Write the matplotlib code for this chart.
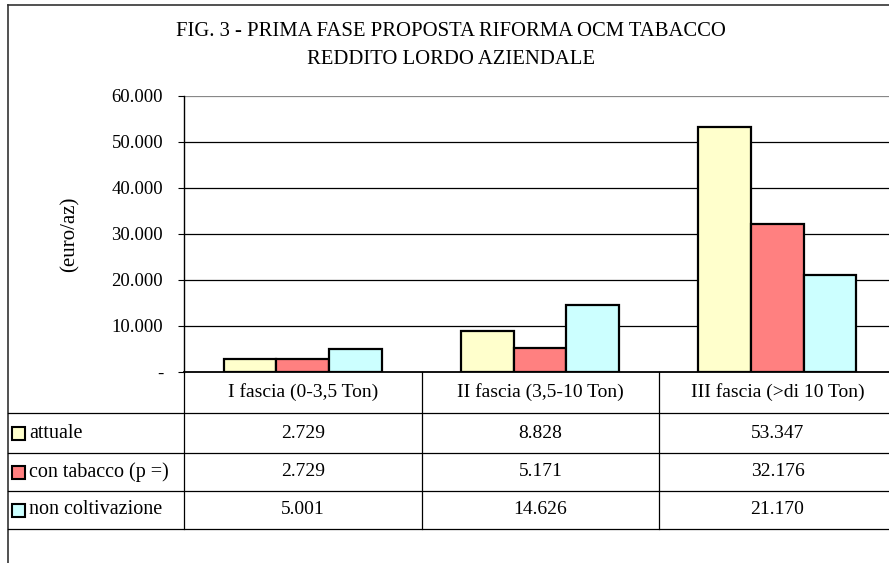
import matplotlib
matplotlib.use("Agg")
import matplotlib.pyplot as plt
from matplotlib.lines import Line2D
from matplotlib.patches import Rectangle

categories = ["I fascia (0-3,5 Ton)", "II fascia (3,5-10 Ton)", "III fascia (>di 10 Ton)"]
series_names = ["attuale", "con tabacco (p =)", "non coltivazione"]
attuale = [2729, 8828, 53347]
con_tabacco = [2729, 5171, 32176]
non_coltivazione = [5001, 14626, 21170]
series_values = [attuale, con_tabacco, non_coltivazione]
colors = ["#FFFFCC", "#FF8080", "#CCFFFF"]
yticks = [0, 10000, 20000, 30000, 40000, 50000, 60000]
title_lines = ["FIG. 3 - PRIMA FASE PROPOSTA RIFORMA OCM TABACCO", "REDDITO LORDO AZIENDALE"]

W, H = 889, 563
FONT = "Liberation Serif"
plt.rcParams['font.family'] = [FONT, 'DejaVu Serif']

fig = plt.figure(figsize=(W / 100, H / 100), dpi=100)

def fx(x):
    return x / W

def fy(y):
    return 1 - y / H

# plot area in pixel coords
L, R, T, B = 184, 896, 96, 372
ax = fig.add_axes([fx(L), fy(B), (R - L) / W, (B - T) / H])
ax.set_xlim(-0.5, 2.5)
ax.set_ylim(0, 60000)

bw = 1 / 4.5
for j, vals in enumerate(series_values):
    xs = [i + (j - 1) * bw for i in range(len(categories))]
    ax.bar(xs, vals, width=bw, color=colors[j], edgecolor="black", linewidth=1.6, zorder=3)

def fmt(v):
    if v == 0:
        return "-"
    return f"{v:,.0f}".replace(",", ".")

ax.set_yticks(yticks)
ax.set_yticklabels([fmt(v) for v in yticks], fontsize=13.5)
ax.tick_params(axis="y", length=4, width=0.8, pad=11)
ax.set_xticks([])
for y in yticks[1:]:
    ax.axhline(y, color="black" if y < 60000 else "#888888", lw=0.9, zorder=1)
for s in ["top", "right"]:
    ax.spines[s].set_visible(False)
ax.spines["left"].set_linewidth(1.0)
ax.spines["bottom"].set_linewidth(1.3)

fig.text(fx(70), fy(234), "(euro/az)", rotation=90, ha="center", va="center", fontsize=15)

# title
fig.text(fx(451), fy(32), title_lines[0], ha="center", va="center", fontsize=14.9)
fig.text(fx(451), fy(60), title_lines[1], ha="center", va="center", fontsize=14.9)

# outer frame
fig.add_artist(Line2D([fx(8), fx(8)], [fy(5), fy(563)], color="#333333", lw=1.2))
fig.add_artist(Line2D([fx(8), fx(889)], [fy(5), fy(5)], color="#333333", lw=1.2))

# data table
col_edges = [L, 422, 659, R]
row_edges = [372, 413, 453, 491, 529]
for y in row_edges[1:]:
    fig.add_artist(Line2D([fx(8), fx(W)], [fy(y), fy(y)], color="black", lw=0.9))
for x in col_edges:
    fig.add_artist(Line2D([fx(x), fx(x)], [fy(372), fy(529)], color="black", lw=0.9))

def cat_center(i):
    return (col_edges[i] + col_edges[i + 1]) / 2

for i, c in enumerate(categories):
    fig.text(fx(cat_center(i)), fy((row_edges[0] + row_edges[1]) / 2), c,
             ha="center", va="center", fontsize=14)

for j, name in enumerate(series_names):
    yc = (row_edges[j + 1] + row_edges[j + 2]) / 2
    fig.add_artist(Rectangle((fx(12), fy(yc + 7)), 13 / W, 13 / H, facecolor=colors[j],
                             edgecolor="black", lw=1.5, transform=fig.transFigure))
    fig.text(fx(29), fy(yc), name, ha="left", va="center", fontsize=14.5)
    for i, v in enumerate(series_values[j]):
        fig.text(fx(cat_center(i)), fy(yc), fmt(v), ha="center", va="center", fontsize=14)

fig.savefig("out.png", dpi=100)
